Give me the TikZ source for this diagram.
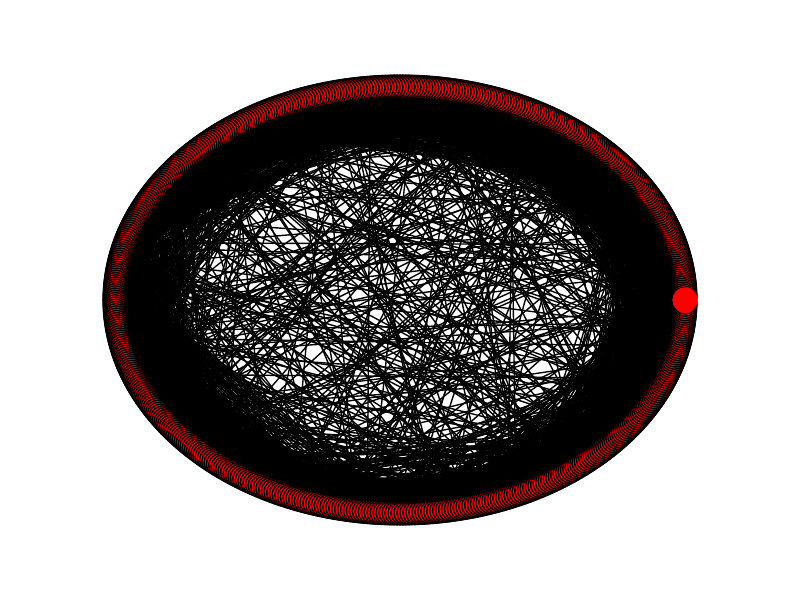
\documentclass[tikz,border=0pt]{standalone}
\usetikzlibrary{calc}

\begin{document}
\begin{tikzpicture}[x=0.01in,y=0.01in]
            \useasboundingbox (0,0) rectangle (800,600);
            \pgfmathsetseed{2718}
            \begin{scope}[shift={(400,300)}]
            \foreach \i in {0,...,599} {
            \coordinate (x\i) at (\i*0.6:285 and 213);}
            \end{scope}

            % short and long chords
            \foreach \i in {0,...,599} {
            \foreach \k in {1,2} {
            \pgfmathtruncatemacro\j{mod(\i+1+int(70*rnd*rnd),600)}
            \draw [line width=1pt,black] (x\i) -- (x\j);}
            \pgfmathtruncatemacro\j{mod(\i+random(40,160),600)}
            \draw [line width=1pt,black] (x\i) -- (x\j);
            \pgfmathtruncatemacro\j{mod(\i+random(1,599),600)}
            \draw [line width=1pt,black] (x\i) -- (x\j);}

            % fans from some hubs
            \foreach \h in {3,10,...,599} {
            \pgfmathtruncatemacro\a{random(15,100)}
            \pgfmathtruncatemacro\c{\a+2}
            \pgfmathtruncatemacro\b{\a+random(20,70)}
            \pgfmathtruncatemacro\s{2*random(0,1)-1}
            \foreach \k in {\a,\c,...,\b} {
            \pgfmathtruncatemacro\j{mod(\h+600+\s*\k,600)}
            \draw [line width=1pt,black] (x\h) -- (x\j);}}

            \foreach \i in {1,...,599} {
            \draw [line width=1pt,black,fill=red] (x\i) circle (8.66pt);}
            \draw [line width=1pt,red,fill=red] (x0) circle (8.66pt);
        \end{tikzpicture}
\end{document}
